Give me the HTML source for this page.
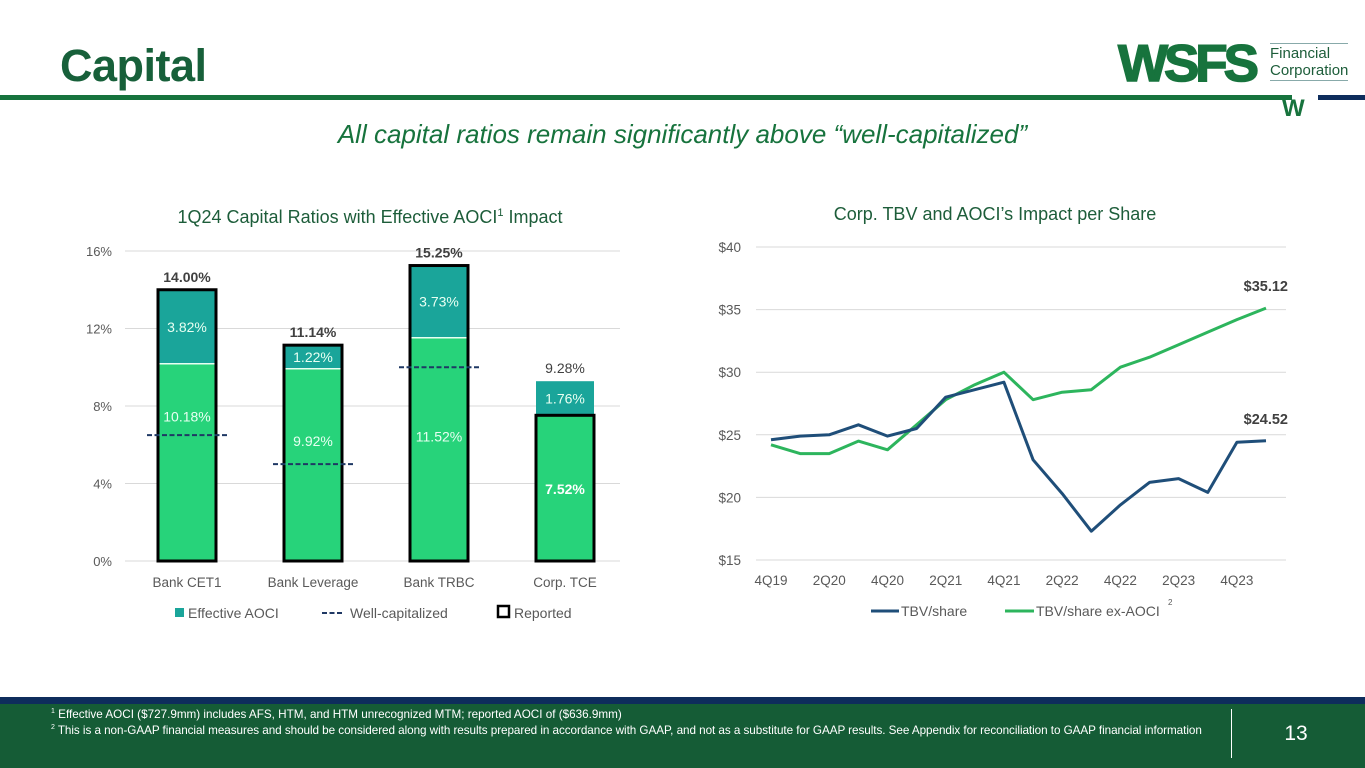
<!DOCTYPE html>
<html><head><meta charset="utf-8"><style>
body{margin:0;width:1365px;height:768px;overflow:hidden;background:#fff;font-family:"Liberation Sans",sans-serif;position:relative}
.abs{position:absolute}
</style></head><body>
<div class="abs" style="left:60px;top:40px;font-size:45px;font-weight:bold;color:#17603a;letter-spacing:-0.5px">Capital</div>
<div class="abs" style="left:0;top:95px;width:1292px;height:5px;background:#16733d"></div>
<div class="abs" style="left:1318px;top:95px;width:47px;height:5px;background:#0e2d5c"></div>
<div class="abs" style="left:1118px;top:40px;width:240px;height:80px">
  <div style="position:absolute;left:0;top:-6px;font-size:52px;font-weight:900;color:#17733d;letter-spacing:-4px;transform:scaleX(1.02);transform-origin:left;-webkit-text-stroke:1.5px #17733d">WSFS</div>
  <div style="position:absolute;left:152px;top:3px;font-size:15px;line-height:17px;color:#1d5d3a;border-top:1px solid #8aa;border-bottom:1px solid #8aa;padding:1px 0">Financial<br>Corporation</div>
  <div style="position:absolute;left:164px;top:55px;font-size:24px;font-weight:900;color:#17733d">W</div>
</div>
<div class="abs" style="left:0;width:1365px;top:119px;text-align:center;font-size:26px;font-style:italic;color:#17733d">All capital ratios remain significantly above “well-capitalized”</div>

<svg class="abs" style="left:0;top:0" width="1365" height="700">
<g id="bar"></g>
<g id="line"></g>
</svg>

<div class="abs" style="left:0;top:697px;width:1365px;height:7px;background:#0e2d5c"></div>
<div class="abs" style="left:0;top:704px;width:1365px;height:64px;background:#155c36"></div>
<div class="abs" style="left:51px;top:708px;font-size:11.7px;color:#fff;white-space:nowrap"><sup style="font-size:7px">1</sup> Effective AOCI ($727.9mm) includes AFS, HTM, and HTM unrecognized MTM; reported AOCI of ($636.9mm)</div>
<div class="abs" style="left:51px;top:724px;font-size:11.7px;letter-spacing:-0.05px;color:#fff;white-space:nowrap"><sup style="font-size:7px">2</sup> This is a non-GAAP financial measures and should be considered along with results prepared in accordance with GAAP, and not as a substitute for GAAP results.  See Appendix for reconciliation to GAAP financial information</div>
<div class="abs" style="left:1231px;top:709px;width:1px;height:49px;background:#fff"></div>
<div class="abs" style="left:1270px;width:52px;top:722px;text-align:center;font-size:21px;color:#fff">13</div>

<script>
const barCategories=["Bank CET1","Bank Leverage","Bank TRBC","Corp. TCE"];
const reportedValues=[10.18,9.92,11.52,7.52];
const aociValues=[3.82,1.22,3.73,1.76];
const totalLabels=["14.00%","11.14%","15.25%","9.28%"];
const wellCap=[6.5,5.0,10.0,null];
const barTicks=[0,4,8,12,16];

const quarters=["4Q19","1Q20","2Q20","3Q20","4Q20","1Q21","2Q21","3Q21","4Q21","1Q22","2Q22","3Q22","4Q22","1Q23","2Q23","3Q23","4Q23","1Q24"];
const tbv=[24.6,24.9,25.0,25.8,24.9,25.5,28.0,28.6,29.2,23.0,20.3,17.3,19.4,21.2,21.5,20.4,24.4,24.52];
const tbvEx=[24.2,23.5,23.5,24.5,23.8,25.8,27.8,29.0,30.0,27.8,28.4,28.6,30.4,31.2,32.2,33.2,34.2,35.12];
const lineTicks=[15,20,25,30,35,40];

const NS="http://www.w3.org/2000/svg";
function mk(p,t,a,txt){const e=document.createElementNS(NS,t);for(const k in a)e.setAttribute(k,a[k]);if(txt!==undefined)e.textContent=txt;p.appendChild(e);return e;}
const F="Liberation Sans, sans-serif";
const labelShift=[-41,-19,-8,6];

// Bar chart
const bg=document.getElementById('bar');
const by=v=>561-v*(561-251)/16;
const bx=i=>187+i*126;
const bw=58;
let t=mk(bg,'text',{x:370,y:223,'text-anchor':'middle','font-size':18,fill:'#1d5d3a','font-family':F},'1Q24 Capital Ratios with Effective AOCI');

mk(t,'tspan',{'font-size':11,dy:-7},'1');mk(t,'tspan',{dy:7},' Impact');
barTicks.forEach(v=>{
 let l=mk(bg,'line',{x1:125,x2:620,y1:by(v),y2:by(v),stroke:'#d9d9d9','stroke-width':1});
 
 let tx=mk(bg,'text',{x:112,y:by(v)+5,'text-anchor':'end','font-size':13,fill:'#595959','font-family':F},v+'%');
 
});
barCategories.forEach((c,i)=>{
 const x=bx(i)-bw/2,r=reportedValues[i],a=aociValues[i];
 let g=mk(bg,'rect',{x:x,y:by(r),width:bw,height:by(0)-by(r),fill:'#27d37a'});
 
 let h=mk(bg,'rect',{x:x,y:by(r+a),width:bw,height:by(r)-by(r+a),fill:'#1aa59a'});
 
 if(i<3){let s=mk(bg,'line',{x1:x,x2:x+bw,y1:by(r),y2:by(r),stroke:'#e8fff2','stroke-width':1.5});}
 const top=i<3?r+a:r;
 let o=mk(bg,'rect',{x:x,y:by(top),width:bw,height:by(0)-by(top),fill:'none',stroke:'#000','stroke-width':3});
 
 let l1=mk(bg,'text',{x:bx(i),y:(by(r)+by(0))/2+labelShift[i],'text-anchor':'middle','font-size':14,fill:i==3?'#fff':'#e8fff2','font-weight':i==3?'bold':'normal','font-family':F},r.toFixed(2)+'%');
 
 let l2=mk(bg,'text',{x:bx(i),y:(by(r)+by(r+a))/2+5,'text-anchor':'middle','font-size':14,fill:'#e8fff2','font-family':F},a.toFixed(2)+'%');
 
 let l3=mk(bg,'text',{x:bx(i),y:by(r+a)-8,'text-anchor':'middle','font-size':14,fill:'#404040','font-weight':i<3?'bold':'normal','font-family':F},totalLabels[i]);
 
 let cl=mk(bg,'text',{x:bx(i),y:587,'text-anchor':'middle','font-size':13.5,fill:'#595959','font-family':F},c);
 
 if(wellCap[i]!==null){let d=mk(bg,'line',{x1:bx(i)-40,x2:bx(i)+40,y1:by(wellCap[i]),y2:by(wellCap[i]),stroke:'#1f3864','stroke-width':2,'stroke-dasharray':'5,2.5'});}
});
// legend
let lg=mk(bg,'rect',{x:175,y:608,width:9,height:9,fill:'#1aa59a'});
let lt=mk(bg,'text',{x:188,y:618,'font-size':14,fill:'#595959','font-family':F},'Effective AOCI');
let ld=mk(bg,'line',{x1:322,x2:343,y1:613,y2:613,stroke:'#1f3864','stroke-width':2,'stroke-dasharray':'5,2.5'});
let lt2=mk(bg,'text',{x:350,y:618,'font-size':14,fill:'#595959','font-family':F},'Well-capitalized');
let lr=mk(bg,'rect',{x:498,y:606,width:11,height:11,fill:'none',stroke:'#000','stroke-width':2.5});
let lt3=mk(bg,'text',{x:514,y:618,'font-size':14,fill:'#595959','font-family':F},'Reported');

// Line chart
const lgp=document.getElementById('line');
const ly=v=>560-(v-15)*(560-247)/25;
const lx=i=>771+i*(1266-771)/17;
let tt=mk(lgp,'text',{x:995,y:220,'text-anchor':'middle','font-size':18,fill:'#1d5d3a','font-family':F},'Corp. TBV and AOCI’s Impact per Share');

lineTicks.forEach(v=>{
 let l=mk(lgp,'line',{x1:756,x2:1286,y1:ly(v),y2:ly(v),stroke:'#d9d9d9','stroke-width':1});
 
 let tx=mk(lgp,'text',{x:741,y:ly(v)+5,'text-anchor':'end','font-size':13.5,fill:'#595959','font-family':F},'$'+v);
 
});
quarters.forEach((q,i)=>{if(i%2==0&&i<17){let tx=mk(lgp,'text',{x:lx(i),y:585,'text-anchor':'middle','font-size':13.5,fill:'#595959','font-family':F},q);}});
function path(arr){return arr.map((v,i)=>(i?'L':'M')+lx(i).toFixed(1)+','+ly(v).toFixed(1)).join(' ');}
let pe=mk(lgp,'path',{d:path(tbvEx),fill:'none',stroke:'#2db55d','stroke-width':3,'stroke-linejoin':'round'});

let pt=mk(lgp,'path',{d:path(tbv),fill:'none',stroke:'#1f4e79','stroke-width':3,'stroke-linejoin':'round'});

let e1=mk(lgp,'text',{x:lx(17)+22,y:ly(tbvEx[17])-17,'text-anchor':'end','font-size':14.5,'font-weight':'bold',fill:'#404040','font-family':F},'$'+tbvEx[17].toFixed(2));

let e2=mk(lgp,'text',{x:lx(17)+22,y:ly(tbv[17])-17,'text-anchor':'end','font-size':14.5,'font-weight':'bold',fill:'#404040','font-family':F},'$'+tbv[17].toFixed(2));

let k1=mk(lgp,'line',{x1:871,x2:899,y1:611,y2:611,stroke:'#1f4e79','stroke-width':3});
let k1t=mk(lgp,'text',{x:901,y:616,'font-size':14,fill:'#595959','font-family':F},'TBV/share');
let k2=mk(lgp,'line',{x1:1005,x2:1034,y1:611,y2:611,stroke:'#2db55d','stroke-width':3});
let k2t=mk(lgp,'text',{x:1036,y:616,'font-size':14,fill:'#595959','font-family':F},'TBV/share ex-AOCI');
let k2s=mk(lgp,'text',{x:1168,y:605,'font-size':8,fill:'#595959','font-family':F},'2');
</script>
</body></html>
